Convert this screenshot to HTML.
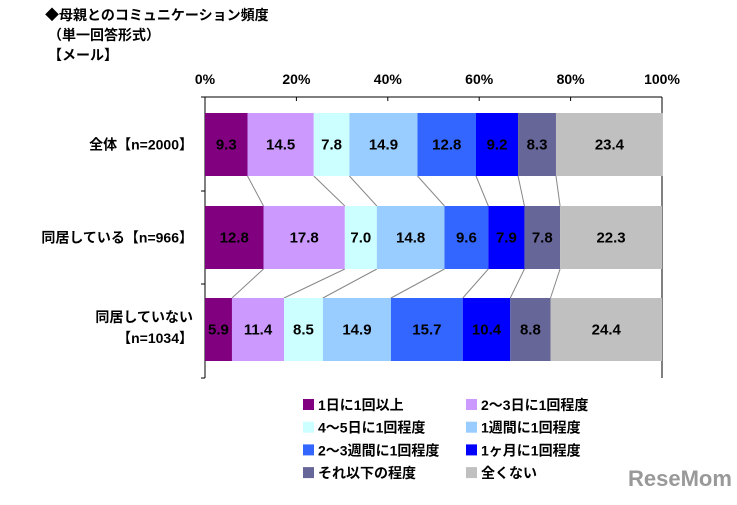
<!DOCTYPE html>
<html><head><meta charset="utf-8">
<style>
body{margin:0;background:#fff;}
svg text{font-family:"Liberation Sans","Noto Sans CJK JP",sans-serif;font-weight:bold;}
</style></head>
<body>
<svg width="737" height="500" viewBox="0 0 737 500">
<text x="45" y="20" font-size="14">◆母親とのコミュニケーション頻度</text>
<text x="48" y="40" font-size="14">（単一回答形式）</text>
<text x="48" y="60" font-size="14">【メール】</text>
<g id="axis"></g>
<g id="connectors"></g>
<g id="bars"></g>
<g id="legend"></g>
<text x="628" y="486" font-size="22" fill="#999" style="font-weight:bold">ReseMom</text>
</svg>
<script>
const categories=["全体【n=2000】","同居している【n=966】","同居していない"];
const seriesNames=["1日に1回以上","2～3日に1回程度","4～5日に1回程度","1週間に1回程度","2～3週間に1回程度","1ヶ月に1回程度","それ以下の程度","全くない"];
const colors=["#800080","#cc99ff","#ccffff","#99ccff","#3366ff","#0000ff","#666699","#c0c0c0"];
const values=[
 [9.3,14.5,7.8,14.9,12.8,9.2,8.3,23.4],
 [12.8,17.8,7.0,14.8,9.6,7.9,7.8,22.3],
 [5.9,11.4,8.5,14.9,15.7,10.4,8.8,24.4]
];
const ticks=[0,20,40,60,80,100];
const NS="http://www.w3.org/2000/svg";
const X0=205,X1=662,TOP=97,BOT=378,barH=63;
const barY=[113,206,298];
const xs=v=>X0+(X1-X0)*v/100;
function mk(tag,attrs,parent){const e=document.createElementNS(NS,tag);for(const k in attrs)e.setAttribute(k,attrs[k]);parent.appendChild(e);return e;}
const ax=document.getElementById('axis');
let l=mk('line',{x1:X0,y1:TOP,x2:X1,y2:TOP,stroke:'#000'},ax);


l=mk('line',{x1:X0,y1:TOP,x2:X0,y2:BOT,stroke:'#000'},ax);


l=mk('line',{x1:X1,y1:TOP,x2:X1,y2:BOT,stroke:'#000'},ax);


ticks.forEach(t=>{
 const tl=mk('line',{x1:xs(t),y1:TOP,x2:xs(t),y2:TOP+4,stroke:'#000'},ax);
 
 
 const tx=mk('text',{x:xs(t),y:84,'text-anchor':'middle','font-size':14},ax);
 tx.textContent=t+'%';
 
 
});
[TOP,191,284,BOT].forEach(y=>{
 const tl=mk('line',{x1:X0-4,y1:y,x2:X0,y2:y,stroke:'#000'},ax);
 
 
});
const bg=document.getElementById('bars'),cg=document.getElementById('connectors');
const cums=values.map(r=>{let c=0;return r.map(v=>(c+=v));});
values.forEach((row,i)=>{
 let c=0;
 row.forEach((v,j)=>{
  const r=mk('rect',{x:xs(c),y:barY[i],width:xs(c+v)-xs(c),height:barH,fill:colors[j]},bg);
  
  
  const t=mk('text',{x:(xs(c)+xs(c+v))/2,y:barY[i]+barH/2+5,'text-anchor':'middle','font-size':15,fill:'#000'},bg);
  t.textContent=v.toFixed(1);
  
  
  c+=v;
 });
 if(i<2){
  cums[i].slice(0,7).forEach((cv,j)=>{
   const cl=mk('line',{x1:xs(cv),y1:barY[i]+barH,x2:xs(cums[i+1][j]),y2:barY[i+1],stroke:'#888','stroke-width':1},cg);
   
   
  });
 }
});
const labY=[[barY[0]+barH/2+5],[barY[1]+barH/2+5],[barY[2]+24,barY[2]+45]];
const labT=[[categories[0]],[categories[1]],[categories[2],"【n=1034】"]];
labT.forEach((ls,i)=>ls.forEach((s,k)=>{
 const t=mk('text',{x:193,y:labY[i][k],'text-anchor':'end','font-size':14},bg);
 t.textContent=s;
 
 
}));
const lg=document.getElementById('legend');
seriesNames.forEach((n,j)=>{
 const x=j%2===0?303:466, y=399+Math.floor(j/2)*22.7;
 const r=mk('rect',{x:x,y:y,width:11,height:11,fill:colors[j]},lg);
 
 
 const t=mk('text',{x:x+15,y:y+11,'font-size':14},lg);
 t.textContent=n;
 
 
});
</script>
</body></html>
